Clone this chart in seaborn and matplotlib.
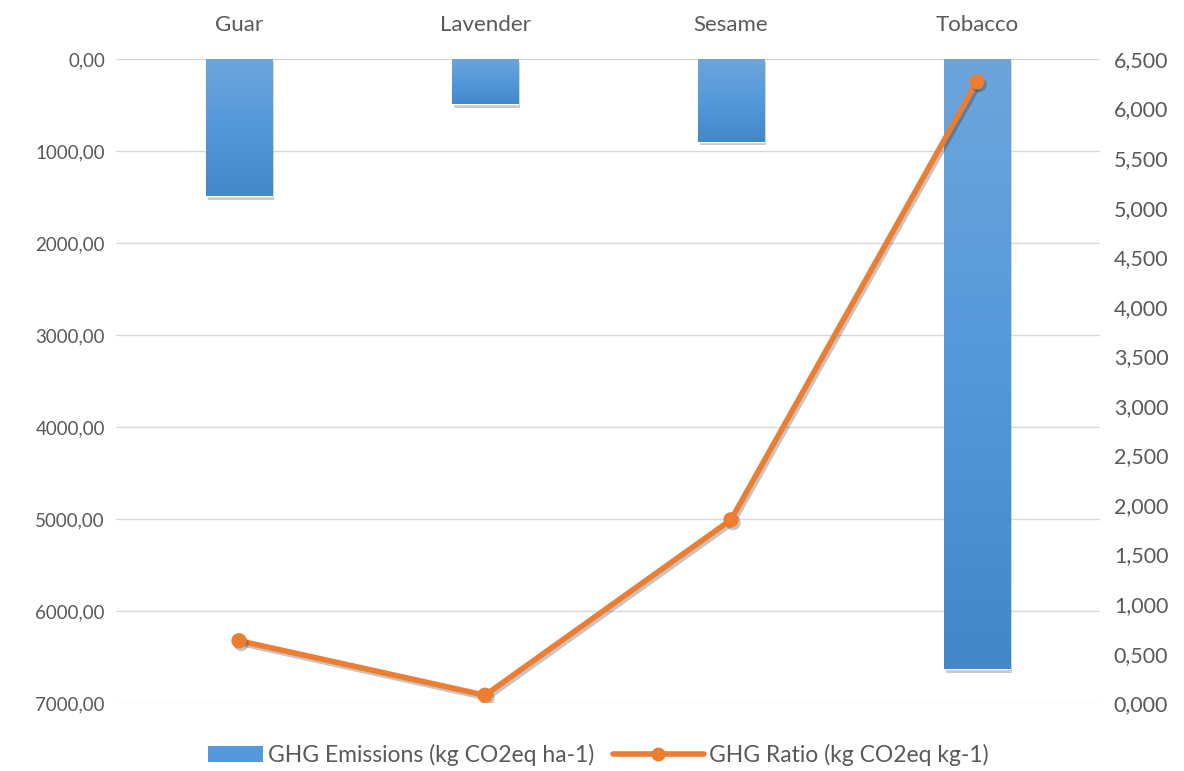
import matplotlib
matplotlib.use("Agg")
import matplotlib.pyplot as plt
import matplotlib.patheffects as pe
from matplotlib.patches import Patch, Rectangle
from matplotlib.lines import Line2D
from matplotlib.colors import LinearSegmentedColormap
from matplotlib.legend_handler import HandlerPatch
import numpy as np
import seaborn as sns
import pandas as pd

# data
crops = ["Guar", "Lavender", "Sesame", "Tobacco"]
emissions = [1490, 490, 900, 6630]        # kg CO2eq ha-1 (left axis, inverted)
ratio = [0.63, 0.08, 1.85, 6.27]          # kg CO2eq kg-1 (right axis)

left_ticks = [0, 1000, 2000, 3000, 4000, 5000, 6000, 7000]
right_ticks = [0, 0.5, 1, 1.5, 2, 2.5, 3, 3.5, 4, 4.5, 5, 5.5, 6, 6.5]

BLUE = "#4F93D6"
ORANGE = "#ED7D31"
TXT = "#595959"
GRID = "#D9D9D9"

sns.set_theme(style="white")
plt.rcParams["font.family"] = ["Lato", "DejaVu Sans"]

df = pd.DataFrame({"crop": crops, "emissions": emissions, "ratio": ratio})

fig = plt.figure(figsize=(11.84, 7.71), dpi=100)
ax = fig.add_axes([0.098, 0.088, 0.831, 0.8355])

sns.barplot(data=df, x="crop", y="emissions", color=BLUE, width=0.27,
            saturation=1, ax=ax, zorder=2)

ax.set_ylim(7000, 0)
ax.set_xlim(-0.5, 3.5)

# excel-like vertical gradient on each bar, plus a soft shadow
grad = LinearSegmentedColormap.from_list("bar", ["#6DA5DB", "#5499DA", "#4287C8"])
g = np.linspace(0, 1, 256).reshape(-1, 1)
for bar in list(ax.patches):
    x0, w = bar.get_x(), bar.get_width()
    y0, h = bar.get_y(), bar.get_height()
    bar.set_path_effects([pe.SimplePatchShadow(offset=(1.5, -2.5), alpha=0.3,
                                               shadow_rgbFace="#555555"), pe.Normal()])
    im = ax.imshow(g, cmap=grad, aspect="auto", extent=(x0, x0 + w, y0 + h, y0),
                   zorder=2.5, interpolation="bilinear")
    im.set_clip_path(bar)
ax.set_ylim(7000, 0)
ax.set_xlim(-0.5, 3.5)

ax.set_yticks(left_ticks)
ax.set_yticklabels([f"{v:.2f}".replace(".", ",") for v in left_ticks])
ax.xaxis.tick_top()
ax.set_xlabel("")
ax.set_ylabel("")
ax.grid(axis="y", color=GRID, linewidth=1)
ax.set_axisbelow(True)
ax.tick_params(axis="y", length=0, labelsize=13.5, colors=TXT, pad=8)
ax.tick_params(axis="x", length=0, labelsize=16, colors=TXT, pad=17)
for s in ax.spines.values():
    s.set_visible(False)

ax2 = ax.twinx()
sns.pointplot(data=df, x="crop", y="ratio", color=ORANGE, ax=ax2,
              markers="o", markersize=8, linewidth=4)
for ln in ax2.lines:
    ln.set_path_effects([pe.SimpleLineShadow(offset=(1.5, -2), alpha=0.25), pe.Normal()])
ax2.set_ylim(0, 6.5)
ax2.set_xlim(-0.5, 3.5)
ax2.set_yticks(right_ticks)
ax2.set_yticklabels([f"{v:.3f}".replace(".", ",") for v in right_ticks])
ax2.set_ylabel("")
ax2.set_xlabel("")
ax2.tick_params(axis="both", length=0, labelsize=15.5, colors=TXT, pad=10)
ax2.tick_params(axis="x", labeltop=False, labelbottom=False)
ax2.grid(False)
for s in ax2.spines.values():
    s.set_visible(False)


def short_patch(legend, orig_handle, xdescent, ydescent, width, height, fontsize):
    # bar swatch is shorter than the line handle in the excel legend
    return Rectangle((-xdescent + width * 0.4, -ydescent), width * 0.6, height)


handles = [
    Patch(facecolor="#5499DA", edgecolor="none"),
    Line2D([0], [0], color=ORANGE, linewidth=4, marker="o", markersize=9),
]
labels = ["GHG Emissions (kg CO2eq ha-1)", "GHG Ratio (kg CO2eq kg-1)"]
fig.legend(handles, labels, loc="lower center", bbox_to_anchor=(0.49, -0.02), ncol=2,
           frameon=False, fontsize=16.5, labelcolor=TXT, handlelength=4,
           handletextpad=0.2, columnspacing=0.8,
           handler_map={Patch: HandlerPatch(patch_func=short_patch)})

fig.savefig("out.png", dpi=100)
